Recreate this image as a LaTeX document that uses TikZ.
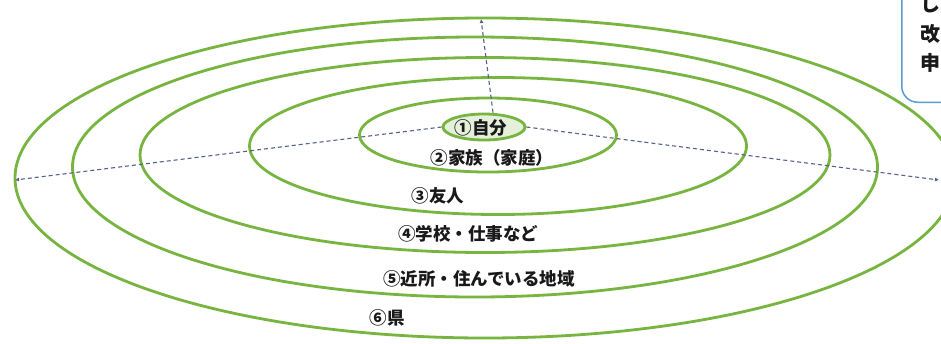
\documentclass[tikz,border=0pt]{standalone}
\usepackage{fontspec}
\newfontfamily\jp{Noto Sans CJK JP}
\usetikzlibrary{shapes.geometric,arrows.meta}
\definecolor{ringc}{RGB}{120,180,64}
\definecolor{ringfill}{RGB}{228,240,218}
\definecolor{connc}{RGB}{84,98,132}
\definecolor{boxblue}{RGB}{91,155,213}
\begin{document}
\begin{tikzpicture}[x=1pt,y=-1pt,
  ring/.style={draw=ringc, line width=2.8pt, ellipse, inner sep=0pt},
  lbl/.style={font=\jp\bfseries\fontsize{17.5}{20}\selectfont, inner sep=0pt, text=black!90},
  boxtxt/.style={font=\jp\bfseries\fontsize{20}{22}\selectfont, inner sep=0pt, anchor=west, text=black!90},
  connline/.style={draw=connc, line width=1.1pt, dash pattern=on 4pt off 3pt,
     -{Latex[length=4pt,width=4pt]}}]
\useasboundingbox (0,0) rectangle (941,343);
\clip (0,0) rectangle (941,343);
\fill[white] (0,0) rectangle (941,343);
% rings
\node[ring, minimum width=940pt, minimum height=320pt] (e6) at (485,178) {};
\node[ring, minimum width=805pt, minimum height=260pt] (e5) at (475,167) {};
\node[ring, minimum width=690pt, minimum height=195pt] (e4) at (485,155) {};
\node[ring, minimum width=497pt, minimum height=137pt] (e3) at (498,146) {};
\node[ring, minimum width=257pt, minimum height=74pt] (e2) at (488,135) {};
\node[ring, fill=ringfill, minimum width=82pt, minimum height=26pt] (e1) at (484,127) {};
% connectors
\coordinate (topend) at (481,19);
\coordinate (leftend) at (15,180);
\coordinate (rightend) at (939,180);
\draw[connline] ([xshift=9pt]e1.north) -- (topend);
\draw[connline] (e1.west) -- (leftend);
\draw[connline] (e1.east) -- (rightend);
% labels
\node[lbl] (l1) at (481,128) {①自分};
\node[lbl] (l2) at (492,158) {②家族（家庭）};
\node[lbl] (l3) at (438,196) {③友人};
\node[lbl] (l4) at (468,234) {④学校・仕事など};
\node[lbl] (l5) at (479,279) {⑤近所・住んでいる地域};
\node[lbl] (l6) at (387,318) {⑥県};
% cut-off note box
\node[draw=boxblue, line width=1.5pt, rounded corners=16pt, minimum width=100pt,
  minimum height=140pt, anchor=south west] (note) at (901,103) {};
\node[boxtxt] (n1) at (920,4) {し};
\node[boxtxt] (n2) at (920,34) {改};
\node[boxtxt] (n3) at (920,63) {申};
\end{tikzpicture}
\end{document}
